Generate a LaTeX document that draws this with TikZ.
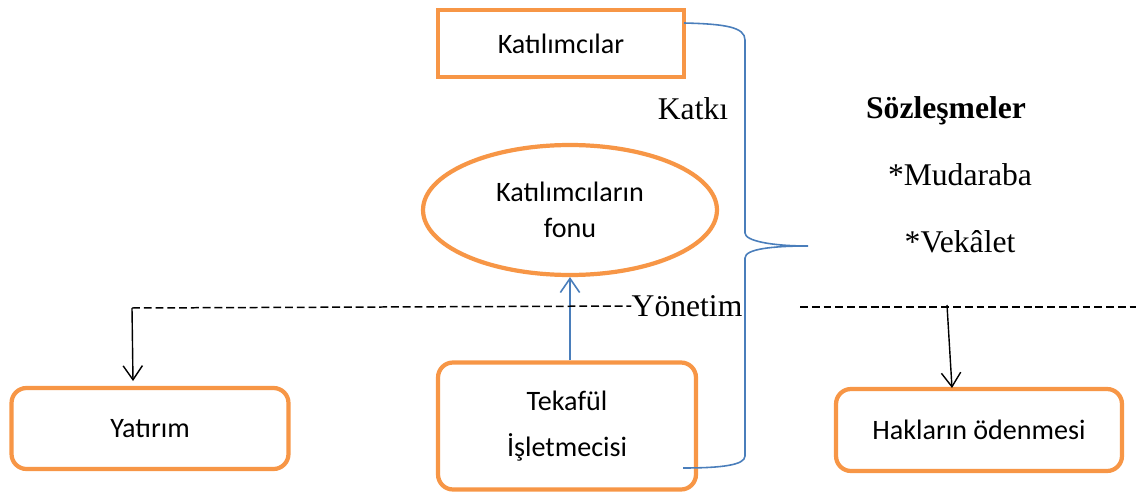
\documentclass[tikz,border=0pt]{standalone}
\usepackage{fontspec}
\setmainfont{Liberation Serif}
\newfontfamily\calfont{Carlito}
\usetikzlibrary{shapes.geometric,arrows.meta}
\definecolor{orng}{HTML}{F79646}
\definecolor{bluel}{HTML}{4A7EBB}
\begin{document}
\begin{tikzpicture}[x=0.02cm,y=-0.02cm,
  obox/.style={draw=orng, line width=2.4pt, fill=white, inner sep=0pt, align=center,
    font=\calfont\fontsize{16}{20}\selectfont},
  rbox/.style={obox, rounded corners=8.5pt},
  serif/.style={inner sep=0pt, font=\fontsize{18}{21}\selectfont},
  blueln/.style={draw=bluel, line width=0.9pt},
  arr/.style={-{Straight Barb[length=8pt,width=11pt]}},
  dashln/.style={dash pattern=on 4.5pt off 2.2pt, line width=0.85pt}
]
\useasboundingbox (0,0) rectangle (1136,500);

% nodes
\node[obox, minimum width=4.92cm, minimum height=1.34cm] (kat) at (561,43.5) {Katılımcılar};
\node[obox, ellipse, minimum width=5.88cm, minimum height=2.6cm,
  font=\calfont\fontsize{16}{20.4}\selectfont] (fon) at (570,210) {Katılımcıların\\fonu};
\node[rbox, minimum width=5.54cm, minimum height=1.62cm] (yat) at (150,428.5) {Yatırım};
\node[rbox, minimum width=5.16cm, minimum height=2.54cm,
  font=\calfont\fontsize{16}{26.6}\selectfont] (tek) at (567,426) {Tekafül\\İşletmecisi};
\node[rbox, minimum width=5.72cm, minimum height=1.64cm] (hak) at (979,430) {Hakların ödenmesi};

\node[serif] (katki) at (693,109) {Katkı};
\node[serif, font=\bfseries\fontsize{18}{21}\selectfont] (soz) at (946,111) {Sözleşmeler};
\node[serif] (mud) at (960,175) {*Mudaraba};
\node[serif] (vek) at (960,242) {*Vekâlet};
\node[serif] (yon) at (687,306) {Yönetim};

% coordinates
\coordinate (bs) at (684,23);
\coordinate (be) at (683,468);
\coordinate (dl) at (132,308);
\coordinate (dr1) at (800,307);
\coordinate (dr2) at (1136,307);
\coordinate (ar1) at (947,305);
\coordinate (ar2) at (952,388);
\coordinate (al2) at (133,381);

% brace
\draw[blueln] (bs) .. controls (725,24) and (745,27) .. (745,40)
  -- (745,233) .. controls (745,241) and (772,246) .. (808,246)
  .. controls (772,246) and (745,249) .. (745,258)
  -- (745,456) .. controls (745,465) and (722,468) .. (be);

% blue arrow
\draw[blueln, arr] (tek.north -| fon.south) -- (fon.south);

% dashed line
\draw[dashln] (dl) -- (yon.west);
\draw[dashln] (dr1) -- (dr2);

% black arrows
\draw[line width=0.8pt, arr] (dl) -- (al2);
\draw[line width=0.8pt, arr] (ar1) -- (ar2);
\end{tikzpicture}
\end{document}
